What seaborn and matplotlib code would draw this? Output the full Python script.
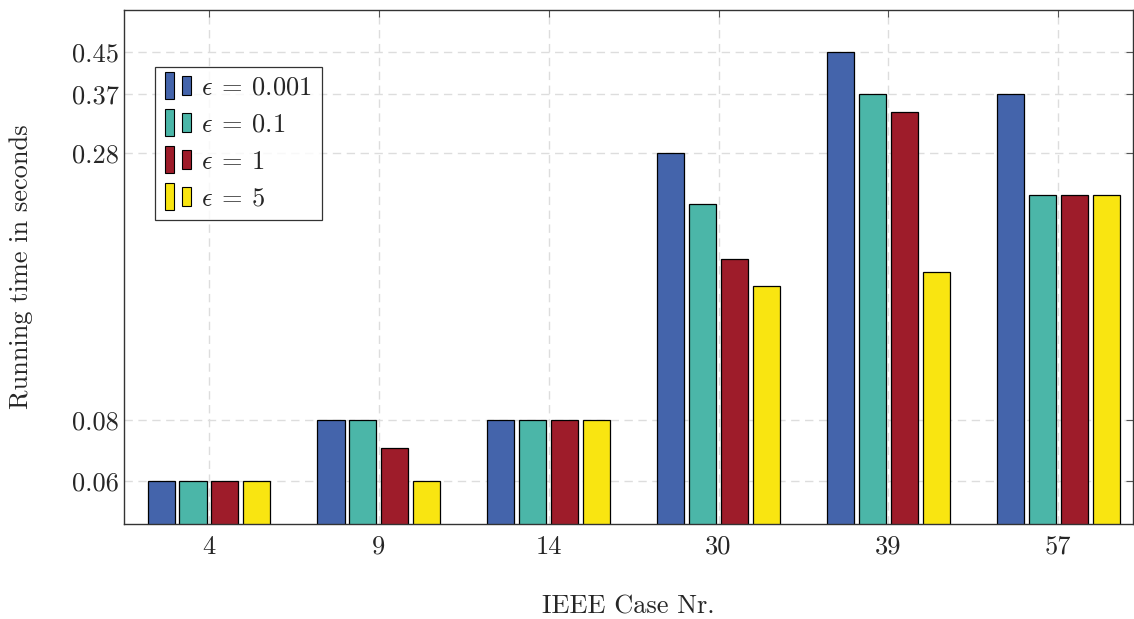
import matplotlib
matplotlib.use("Agg")
import matplotlib.pyplot as plt
from matplotlib.legend_handler import HandlerBase
from matplotlib.patches import Rectangle
import pandas as pd
import seaborn as sns

cases = ["4", "9", "14", "30", "39", "57"]
eps_labels = [r"$\epsilon\:=\:0.001$", r"$\epsilon\:=\:0.1$", r"$\epsilon\:=\:1$", r"$\epsilon\:=\:5$"]
times = {
    eps_labels[0]: [0.06, 0.08, 0.08, 0.28, 0.45, 0.37],
    eps_labels[1]: [0.06, 0.08, 0.08, 0.22, 0.37, 0.23],
    eps_labels[2]: [0.06, 0.07, 0.08, 0.17, 0.34, 0.23],
    eps_labels[3]: [0.06, 0.06, 0.08, 0.15, 0.16, 0.23],
}
colors = ["#4464AB", "#4BB6A8", "#9E1C2A", "#F9E511"]
yticks = [0.06, 0.08, 0.28, 0.37, 0.45]

rows = []
for lab in eps_labels:
    for c, t in zip(cases, times[lab]):
        rows.append({"case": c, "eps": lab, "time": t})
df = pd.DataFrame(rows)

sns.set_style("white")
plt.rcParams["font.family"] = "serif"
plt.rcParams["font.serif"] = ["cmr10"]
plt.rcParams["mathtext.fontset"] = "cm"
plt.rcParams["axes.formatter.use_mathtext"] = True


class TwoBars(HandlerBase):
    def create_artists(self, legend, orig, xd, yd, w, h, fontsize, trans):
        fc = orig.get_facecolor()
        r1 = Rectangle((xd, yd - 0.25 * h), w * 0.3, h * 1.5, facecolor=fc,
                       edgecolor="black", lw=0.8, transform=trans)
        r2 = Rectangle((xd + w * 0.55, yd), w * 0.3, h * 1.0, facecolor=fc,
                       edgecolor="black", lw=0.8, transform=trans)
        return [r1, r2]


fig = plt.figure(figsize=(11.34, 6.19), dpi=100)
ax = fig.add_axes([0.1093, 0.1535, 0.8899, 0.8303])
sns.barplot(data=df, x="case", y="time", hue="eps", hue_order=eps_labels,
            palette=colors, width=0.75, gap=0.15, edgecolor="black",
            linewidth=0.9, saturation=1, errorbar=None, ax=ax)
ax.set_yscale("log")
ax.set_ylim(0.049, 0.548)
ax.set_xlim(-0.5, 5.44)
ax.set_yticks(yticks)
ax.set_yticklabels([f"{v:g}" for v in yticks])
ax.minorticks_off()
ax.set_yticks([], minor=True)
ax.tick_params(axis="both", labelsize=19, direction="in", length=5,
               top=True, right=True, color="#555555")
ax.tick_params(axis="x", pad=8)
ax.grid(True, linestyle=(0, (6, 4)), color="#dddddd", linewidth=1)
ax.set_axisbelow(True)
for s in ax.spines.values():
    s.set_color("#333333")
    s.set_linewidth(1)
ax.set_xlabel("IEEE Case Nr.", fontsize=19, labelpad=26)
ax.set_ylabel("Running time in seconds", fontsize=19, labelpad=28)

handles = ax.get_legend().legend_handles
leg = ax.legend(handles, eps_labels, loc="upper left", bbox_to_anchor=(0.018, 0.915),
                fontsize=19, frameon=True, fancybox=False, edgecolor="black",
                handler_map={Rectangle: TwoBars()}, handlelength=1.2,
                handletextpad=0.2, labelspacing=0.5, borderpad=0.35)
leg.get_frame().set_linewidth(0.9)

fig.savefig("out.png", dpi=100)
